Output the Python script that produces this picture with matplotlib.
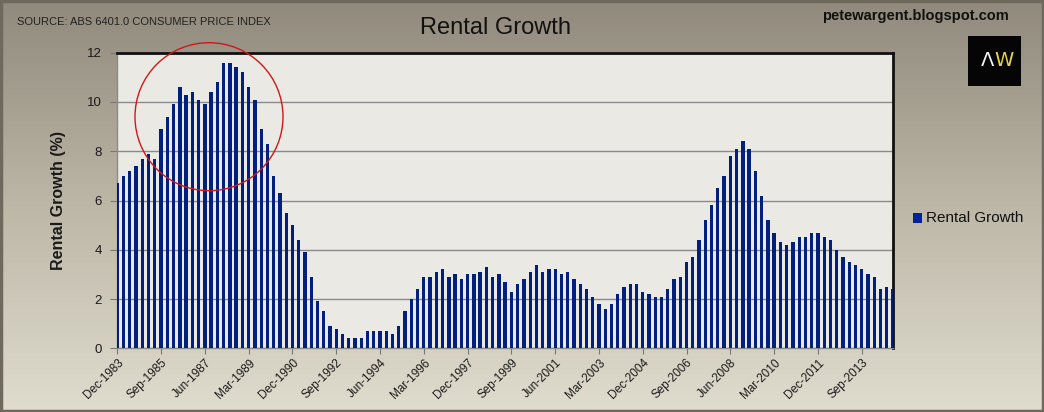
import numpy as np
import matplotlib
matplotlib.use("Agg")
import matplotlib.pyplot as plt
from matplotlib.patches import Ellipse, Rectangle

plt.rcParams['font.family'] = ['Liberation Sans', 'DejaVu Sans']

# ---------------- data ----------------
start_year = 1983
start_month_idx = 3  # Dec (quarters: Mar, Jun, Sep, Dec -> 0..3)
quarter_names = ['Mar', 'Jun', 'Sep', 'Dec']

rental_growth = [
    6.7, 7.0, 7.2, 7.4, 7.7, 7.9, 7.7, 8.9, 9.4, 9.9,
    10.6, 10.3, 10.4, 10.1, 9.9, 10.4, 10.8, 11.6, 11.6, 11.4,
    11.2, 10.6, 10.1, 8.9, 8.3, 7.0, 6.3, 5.5, 5.0, 4.4,
    3.9, 2.9, 1.9, 1.5, 0.9, 0.8, 0.6, 0.4, 0.4, 0.4,
    0.7, 0.7, 0.7, 0.7, 0.6, 0.9, 1.5, 2.0, 2.4, 2.9,
    2.9, 3.1, 3.2, 2.9, 3.0, 2.8, 3.0, 3.0, 3.1, 3.3,
    2.9, 3.0, 2.7, 2.3, 2.6, 2.8, 3.1, 3.4, 3.1, 3.2,
    3.2, 3.0, 3.1, 2.8, 2.6, 2.4, 2.1, 1.8, 1.6, 1.8,
    2.2, 2.5, 2.6, 2.6, 2.3, 2.2, 2.1, 2.1, 2.4, 2.8,
    2.9, 3.5, 3.7, 4.4, 5.2, 5.8, 6.5, 7.0, 7.8, 8.1,
    8.4, 8.1, 7.2, 6.2, 5.2, 4.7, 4.3, 4.2, 4.3, 4.5,
    4.5, 4.7, 4.7, 4.5, 4.4, 4.0, 3.7, 3.5, 3.4, 3.2,
    3.0, 2.9, 2.4, 2.5, 2.4,
]

quarter_labels = []
for i in range(len(rental_growth)):
    q = start_month_idx + i
    year = start_year + q // 4
    quarter_labels.append(f"{quarter_names[q % 4]}-{year}")

label_step = 7
y_ticks = [0, 2, 4, 6, 8, 10, 12]

# ---------------- figure ----------------
W, H = 1044, 412
fig = plt.figure(figsize=(W / 100, H / 100), dpi=100)

# background gradient
bg = fig.add_axes([0, 0, 1, 1], zorder=-10)
bg.set_axis_off()
top_c = np.array([144, 137, 124]) / 255
mid_c = np.array([188, 183, 167]) / 255
bot_c = np.array([224, 220, 206]) / 255
t = np.linspace(0, 1, 256)[:, None]
grad = np.where(t < 0.5, top_c + (mid_c - top_c) * (t / 0.5),
                mid_c + (bot_c - mid_c) * ((t - 0.5) / 0.5))
grad = np.repeat(grad[:, None, :], 2, axis=1)
bg.imshow(grad, aspect='auto', extent=[0, 1, 0, 1])
bg.set_xlim(0, 1)
bg.set_ylim(0, 1)
bg.add_patch(Rectangle((0.001, 0.002), 0.998, 0.995, fill=False,
                       edgecolor='#6e685d', linewidth=2.5))

left = 117.3 / W
right = 893 / W
bottom = 1 - 348.3 / H
top = 1 - 52.7 / H
ax = fig.add_axes([left, bottom, right - left, top - bottom])
ax.set_facecolor('#ebe9e4')

x = np.arange(len(rental_growth))
ax.bar(x, rental_growth, width=0.53, color='#00207c', zorder=3)
ax.set_xlim(0, len(rental_growth) - 1)
ax.set_ylim(0, 12)

ax.set_yticks(y_ticks)
ax.set_yticklabels([str(v) for v in y_ticks], fontsize=9.5, color='#1a1a1a')
ax.yaxis.grid(True, color='#8a8a8a', linewidth=1.0, zorder=1)
ax.set_axisbelow(True)

tick_pos = x[::label_step]
ax.set_xticks(tick_pos)
ax.set_xticklabels([quarter_labels[i] for i in tick_pos], rotation=45,
                   ha='right', rotation_mode='anchor', fontsize=8.5,
                   color='#1a1a1a')
ax.tick_params(axis='x', direction='out', length=4, color='#777777', pad=2)
ax.tick_params(axis='y', direction='out', length=5, color='#777777', pad=6)

for s in ['left', 'bottom']:
    ax.spines[s].set_color('#8a8a8a')
    ax.spines[s].set_linewidth(1.0)
for s in ['top', 'right']:
    ax.spines[s].set_color('#111111')
    ax.spines[s].set_linewidth(2.0)

ax.set_ylabel('Rental Growth (%)', fontsize=11.5, fontweight='bold',
              color='#1a1a1a', labelpad=15)

# titles and texts
fig.text(17 / W, 1 - 22 / H, 'SOURCE: ABS 6401.0 CONSUMER PRICE INDEX',
         fontsize=8, color='#222222', ha='left', va='center')
fig.text(495 / W, 1 - 28 / H, 'Rental Growth', fontsize=17,
         color='#111111', ha='center', va='center')
fig.text(915 / W, 1 - 16 / H, 'petewargent.blogspot.com', fontsize=10.5,
         fontweight='bold', color='#111111', ha='center', va='center')

# logo
fig.patches.append(Rectangle((968 / W, 1 - 86 / H), 53 / W, 50 / H,
                             transform=fig.transFigure, facecolor='#050505',
                             edgecolor='none'))
fig.text(994 / W, 1 - 61 / H, '\u039b', fontsize=14, color='#f4f4f4',
         ha='right', va='center', family=['DejaVu Sans'])
fig.text(994 / W, 1 - 61 / H, 'W', fontsize=14, color='#e6d24a',
         ha='left', va='center', family=['DejaVu Sans'])

# legend
fig.patches.append(Rectangle((913 / W, 1 - 223 / H), 9 / W, 10 / H,
                             transform=fig.transFigure, facecolor='#0022a0',
                             edgecolor='none'))
fig.text(926 / W, 1 - 218 / H, 'Rental Growth', fontsize=11,
         color='#111111', ha='left', va='center')

# red circle annotation
fig.patches.append(Ellipse((209 / W, 1 - 116.7 / H), 148 / W, 148 / H,
                           transform=fig.transFigure, fill=False,
                           edgecolor='#d01818', linewidth=1.0, zorder=20))

fig.savefig('out.png', dpi=100)
